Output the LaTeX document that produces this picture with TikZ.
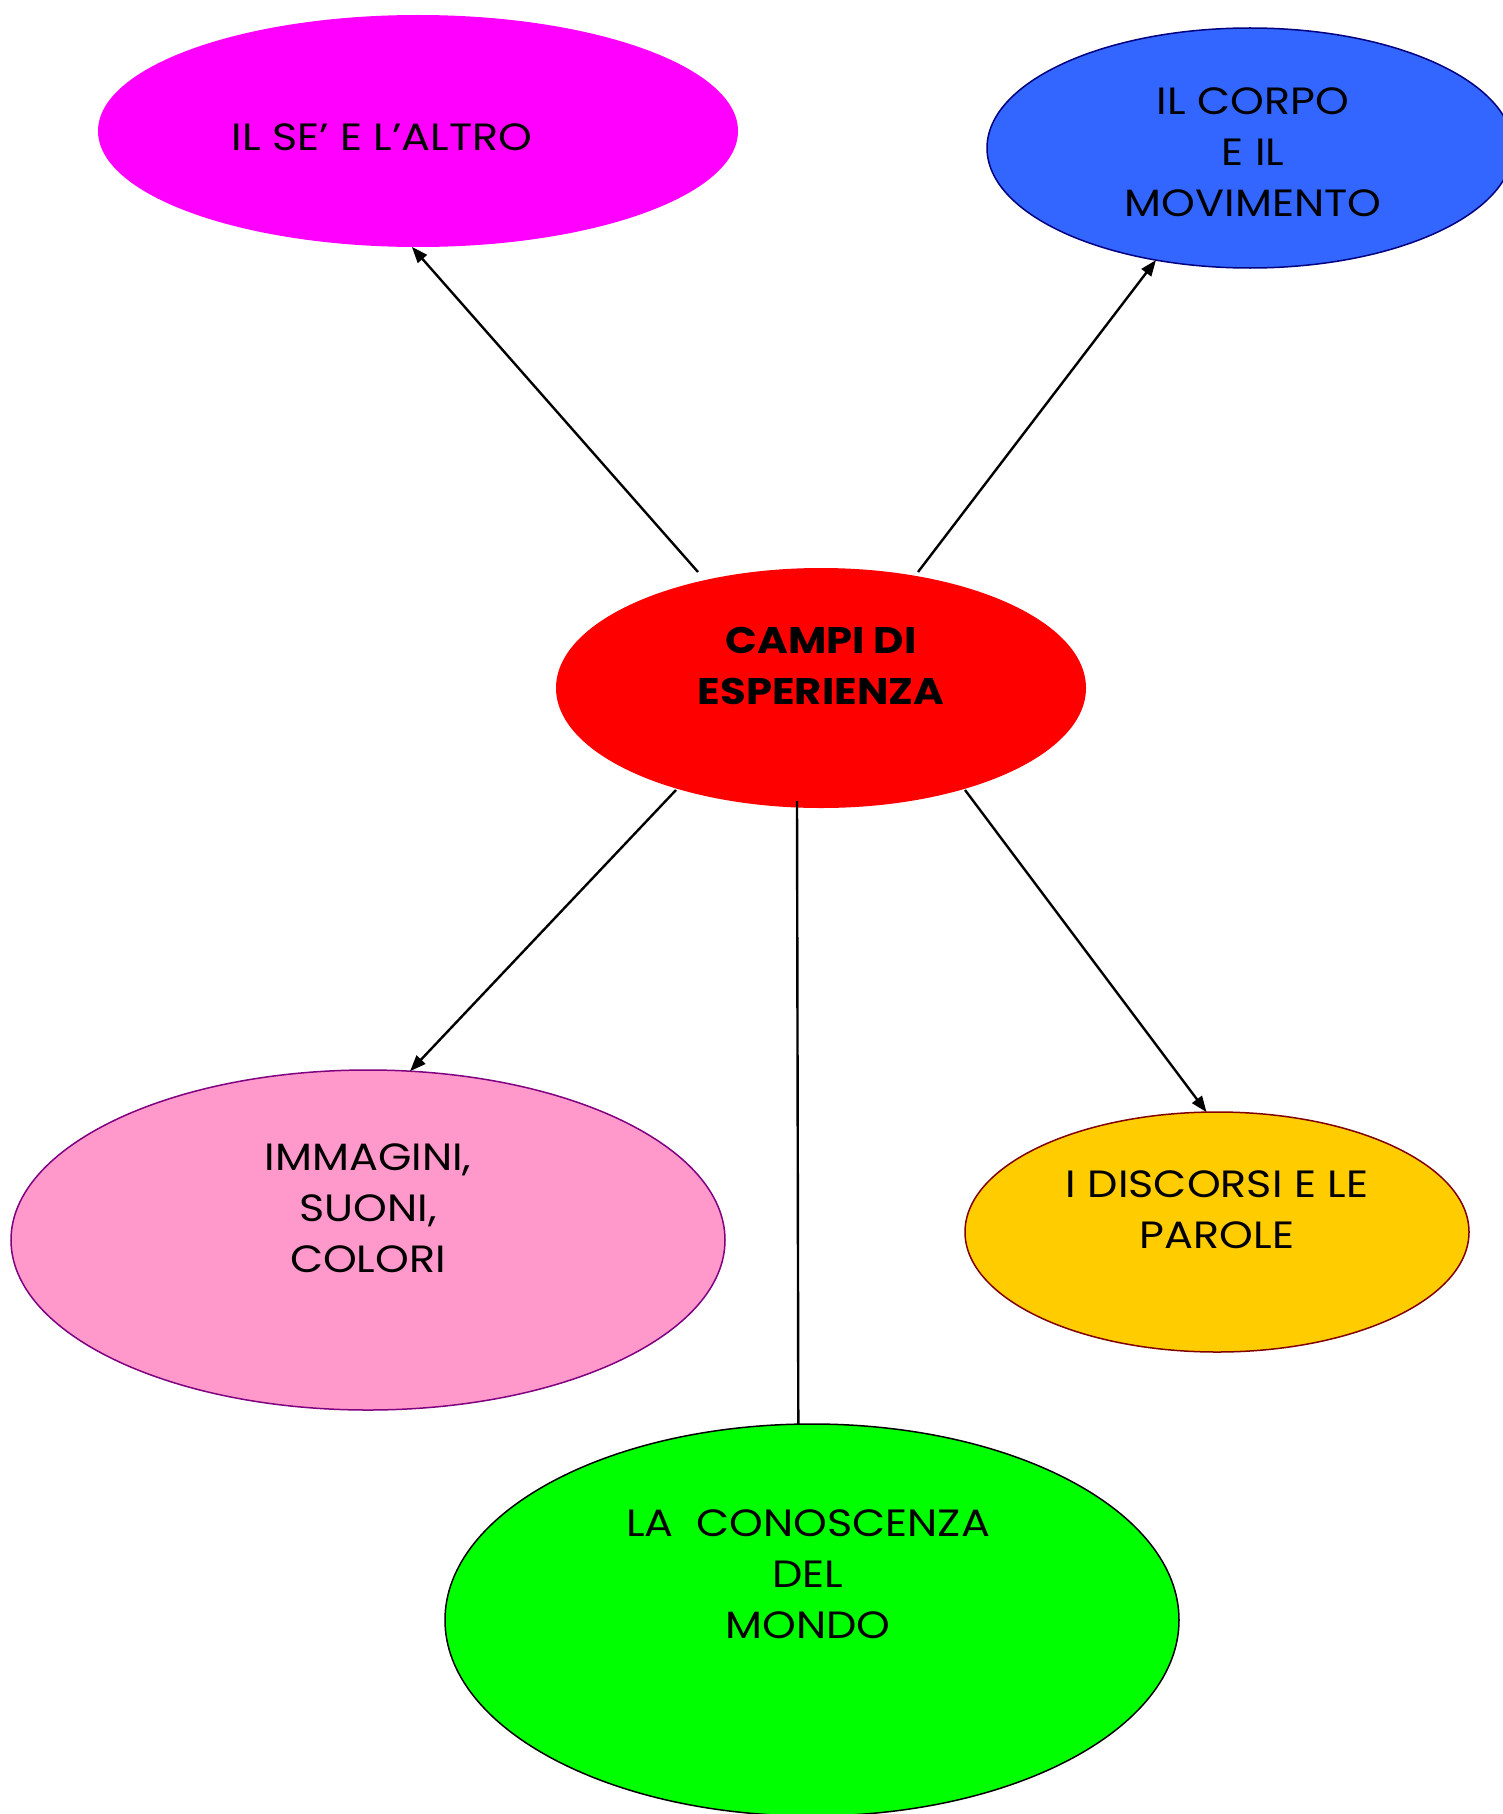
\documentclass[tikz,border=0pt]{standalone}
\usepackage{fontspec}
\setmainfont{Poppins}[FakeStretch=1.13]
\usetikzlibrary{shapes.geometric,arrows.meta}
\definecolor{cMag}{HTML}{FF00FF}
\definecolor{cBlue}{HTML}{3366FF}
\definecolor{cNavy}{HTML}{000080}
\definecolor{cRed}{HTML}{FF0000}
\definecolor{cPink}{HTML}{FF99CC}
\definecolor{cPurple}{HTML}{800080}
\definecolor{cYellow}{HTML}{FFCC00}
\definecolor{cMaroon}{HTML}{800000}
\definecolor{cGreen}{HTML}{00FF00}
\begin{document}
\begin{tikzpicture}[x=1pt,y=-1pt,
  bubble/.style={ellipse, inner sep=0pt, outer sep=0pt, line width=1.5pt},
  lbl/.style={align=center, inner sep=0pt, text=black, font=\fontsize{38}{51}\selectfont},
  conn/.style={line width=2.4pt, draw=black},
  arr/.style={conn, -{Triangle[length=16pt,width=12pt]}}]
\useasboundingbox (0,0) rectangle (1503,1814);
\clip (0,0) rectangle (1503,1814);
% ellipses
\node[bubble, fill=cMag, minimum width=640pt, minimum height=232pt] (se) at (418,131) {};
\node[bubble, fill=cBlue, draw=cNavy, minimum width=526pt, minimum height=240pt] (corpo) at (1250,148) {};
\node[bubble, fill=cRed, minimum width=530pt, minimum height=240pt] (campi) at (821,688) {};
\node[bubble, fill=cPink, draw=cPurple, minimum width=714pt, minimum height=340pt] (imm) at (368,1240) {};
\node[bubble, fill=cYellow, draw=cMaroon, minimum width=504pt, minimum height=240pt] (disc) at (1217,1232) {};
\node[bubble, fill=cGreen, draw=black, minimum width=734pt, minimum height=392pt] (mondo) at (812,1620) {};
% labels
\node[lbl] (tse) at (382,137) {IL SE’ E L’ALTRO};
\node[lbl] (tcorpo) at (1253,152) {IL CORPO\\E IL\\MOVIMENTO};
\node[lbl, font=\fontsize{37}{51}\selectfont\bfseries] (tcampi) at (821,666) {CAMPI DI\\ESPERIENZA};
\node[lbl] (timm) at (368,1208) {IMMAGINI,\\SUONI,\\COLORI};
\node[lbl] (tdisc) at (1217,1210) {I DISCORSI E LE\\PAROLE};
\node[lbl] (tmondo) at (808,1574) {LA\ \ CONOSCENZA\\DEL\\MONDO};
% connector start points
\coordinate (s1) at (698,572);
\coordinate (s2) at (918,572);
\coordinate (s3) at (676,790);
\coordinate (s4) at (965,790);
\coordinate (s5) at (797,801);
\draw[arr] (s1) -- (se.267);
\draw[arr] (s2) -- (corpo.230);
\draw[arr] (s3) -- (imm.76);
\draw[arr] (s4) -- (disc.95);
\draw[conn] (s5) -- (mondo.94);
\end{tikzpicture}
\end{document}
